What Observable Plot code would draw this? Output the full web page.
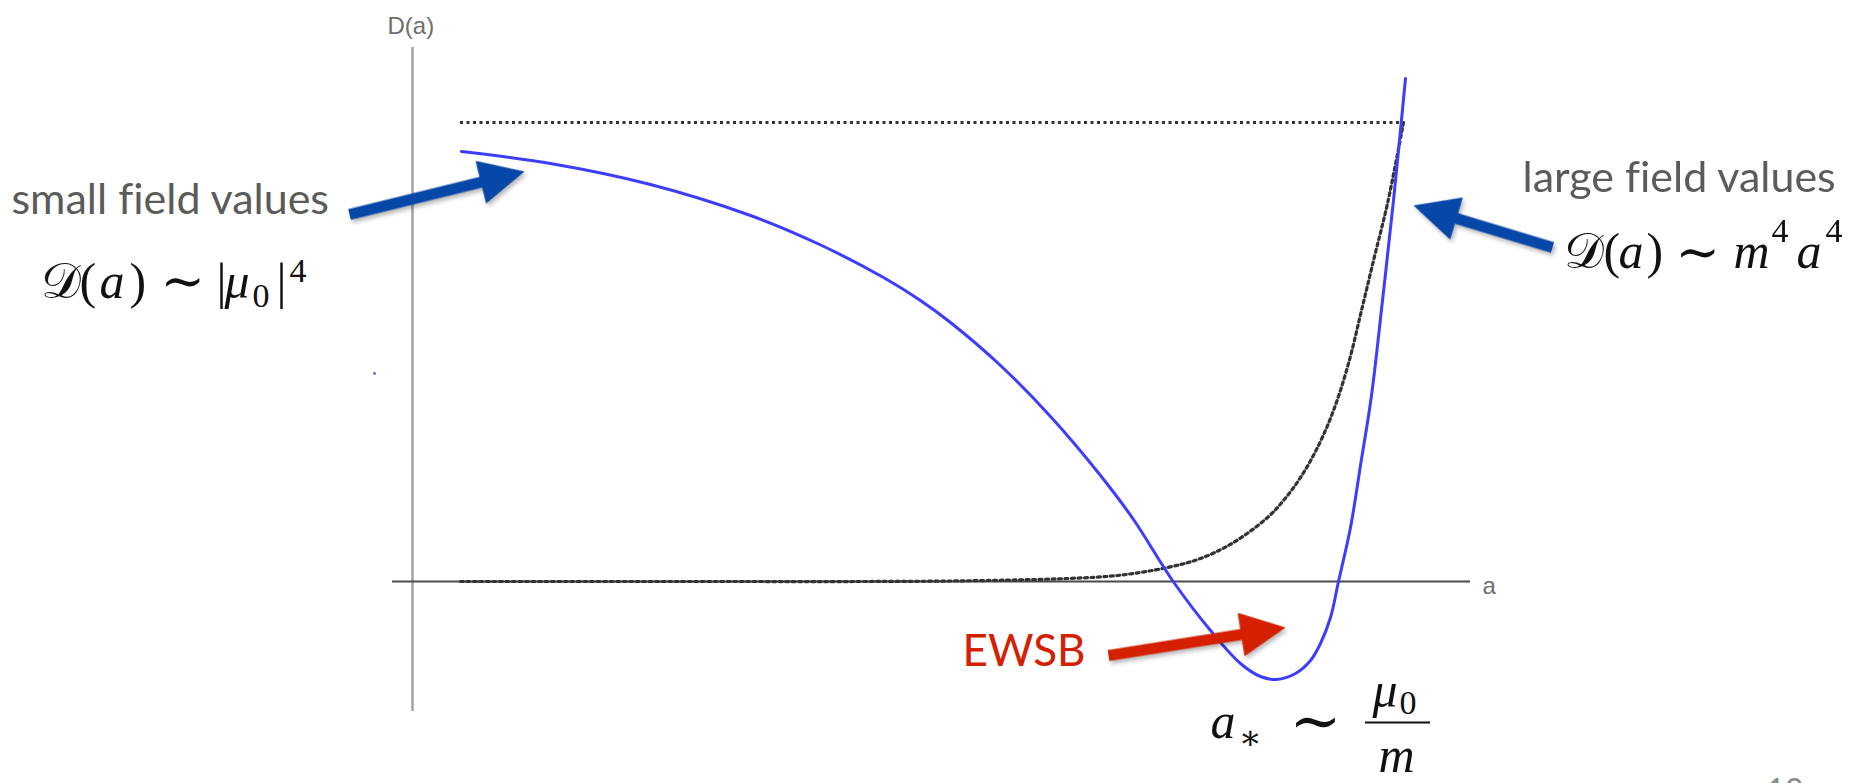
<!DOCTYPE html>
<html><head><meta charset="utf-8">
<script src="https://cdn.jsdelivr.net/npm/d3@7"></script>
<script src="https://cdn.jsdelivr.net/npm/@observablehq/plot@0.6"></script>
<style>
html,body{margin:0;padding:0;background:#fff;overflow:hidden}
#chart svg{display:block}
#chart text{font-variant-ligatures:none}
#chart g[aria-label="vector"]{filter:drop-shadow(2px 3px 2px rgba(0,0,0,0.28))}
</style></head><body><div id="chart"></div>
<script>
// ---- data (a, D(a)) ----
const curveA = [0.49, 1.38, 2.38, 3.38, 4.05, 4.71, 5.08, 5.38, 5.88, 6.38, 6.88, 7.21, 7.60, 7.98, 8.28, 8.48, 8.64, 8.83, 8.98, 9.08, 9.18, 9.26, 9.38, 9.48, 9.59, 9.70, 9.81, 9.93];
const curveD = [4.30, 4.18, 3.97, 3.66, 3.38, 3.04, 2.81, 2.59, 2.16, 1.65, 1.06, 0.62, 0.01, -0.49, -0.82, -0.95, -0.98, -0.92, -0.79, -0.62, -0.36, 0.00, 0.54, 1.16, 1.86, 2.81, 3.81, 5.03];
const quarticA = [0.48, 3.0, 4.5, 5.38, 6.0, 6.55, 7.05, 7.55, 7.88, 8.21, 8.55, 8.71, 8.88, 9.05, 9.21, 9.36, 9.49, 9.62, 9.75, 9.91];
const quarticD = [0, 0, 0, 0.005, 0.015, 0.03, 0.06, 0.14, 0.23, 0.39, 0.64, 0.81, 1.04, 1.34, 1.71, 2.18, 2.71, 3.25, 3.78, 4.59];
const plateauA = [0.48, 9.9];
const plateauD = 4.59;
const axisTitles = ["D(a)", "a"];
const noteTexts = ["small field values", "large field values", "EWSB", "12"];

// ---- frame: pixel <-> data (origin of axes at px 412,581; 100 px per unit) ----
const W = 1864, H = 783, OX = 412, OY = 581, U = 100;
const X = p => (p - OX) / U;
const Y = p => (OY - p) / U;

const curve = curveA.map((a, i) => ({a, D: curveD[i]}));
const quartic = quarticA.map((a, i) => ({a, D: quarticD[i]}));

// annotation layout (pixels)
const notes = [
  {t: noteTexts[0], px: 11, py: 213, fill: "#5b5b5b", size: 43},
  {t: noteTexts[1], px: 1522, py: 191, fill: "#5b5b5b", size: 43},
  {t: noteTexts[2], px: 962, py: 665, fill: "#d42000", size: 44},
  {t: noteTexts[3], px: 1766, py: 801, fill: "#8a8a8a", size: 32}
];
const axisText = [
  {t: axisTitles[0], px: 387, py: 33},
  {t: axisTitles[1], px: 1482, py: 593}
];
const mathUp = [
  {t: "𝒟", px: 40, py: 297, size: 50}, {t: "(", px: 79, py: 297, size: 50}, {t: ")", px: 129, py: 297, size: 50},
  {t: "|", px: 216, py: 297, size: 50}, {t: "0", px: 252, py: 306, size: 34},
  {t: "|", px: 276, py: 297, size: 50}, {t: "4", px: 289, py: 281, size: 34},
  {t: "𝒟", px: 1563, py: 267, size: 50}, {t: "(", px: 1603, py: 267, size: 50}, {t: ")", px: 1646, py: 267, size: 50},
  {t: "4", px: 1771, py: 241, size: 34}, {t: "4", px: 1825, py: 241, size: 34},
  {t: "∗", px: 1238, py: 748, size: 34}, {t: "0", px: 1399, py: 713, size: 34}
];
const mathTilde = [
  {t: "∼", px: 160, py: 298, size: 53}, {t: "∼", px: 1675, py: 269, size: 53}, {t: "∼", px: 1289, py: 741, size: 62}
];
const mathIt = [
  {t: "a", px: 99, py: 297, size: 50}, {t: "μ", px: 224, py: 297, size: 50},
  {t: "a", px: 1618, py: 267, size: 50}, {t: "m", px: 1733, py: 267, size: 50}, {t: "a", px: 1796, py: 267, size: 50},
  {t: "a", px: 1210, py: 737, size: 50}, {t: "μ", px: 1372, py: 706, size: 50}, {t: "m", px: 1378, py: 771, size: 50}
];
const arrows = [
  {tail: [349, 214], tip: [524, 171], fill: "#0747a8"},
  {tail: [1552, 247], tip: [1413, 205], fill: "#0747a8"},
  {tail: [1108, 655], tip: [1285, 627], fill: "#d42000"}
].map(d => ({
  x: X(d.tail[0]), y: Y(d.tail[1]), fill: d.fill,
  length: Math.hypot(d.tip[0] - d.tail[0], d.tip[1] - d.tail[1]),
  rotate: Math.atan2(d.tip[0] - d.tail[0], -(d.tip[1] - d.tail[1])) * 180 / Math.PI
}));

const filledArrow = {
  draw(ctx, l) {
    const hl = 45, hw = 22, sw = 5.5;
    ctx.moveTo(-sw, 0);
    ctx.lineTo(-sw, -(l - hl));
    ctx.lineTo(-hw, -(l - hl));
    ctx.lineTo(0, -l);
    ctx.lineTo(hw, -(l - hl));
    ctx.lineTo(sw, -(l - hl));
    ctx.lineTo(sw, 0);
    ctx.closePath();
  }
};

const serif = "'Liberation Serif', 'DejaVu Serif', serif";
const txt = (data, o) => Plot.text(data, {x: d => X(d.px), y: d => Y(d.py), text: "t", textAnchor: "start", lineAnchor: "bottom", ...o});
const chart = Plot.plot({
  width: W, height: H, margin: 0,
  style: {background: "#fff"},
  x: {domain: [X(0), X(W)], range: [0, W], axis: null},
  y: {domain: [Y(H), Y(0)], range: [H, 0], axis: null},
  length: {type: "identity"},
  marks: [
    Plot.ruleX([0], {y1: Y(711), y2: Y(47), stroke: "#a2a2a2", strokeWidth: 2.5}),
    Plot.ruleY([0], {x1: X(392), x2: X(1470), stroke: "#4a4a4a", strokeWidth: 2}),
    Plot.ruleY([plateauD], {x1: plateauA[0], x2: plateauA[1], stroke: "#333", strokeWidth: 3.2, strokeDasharray: "3 3.5"}),
    Plot.line(quartic, {x: "a", y: "D", curve: "catmull-rom", stroke: "#333", strokeWidth: 3.2, strokeDasharray: "3 3.5"}),
    Plot.line(curve, {x: "a", y: "D", curve: "catmull-rom", stroke: "#3d3dff", strokeWidth: 3}),
    Plot.dot([{px: 374, py: 373}], {x: d => X(d.px), y: d => Y(d.py), r: 1.4, fill: "#5a6ad8", stroke: "none"}),
    Plot.vector(arrows, {x: "x", y: "y", length: "length", rotate: "rotate", anchor: "start", shape: filledArrow, fill: "fill", stroke: "none"}),
    txt(axisText, {fontSize: 24, fontFamily: "'Liberation Sans', Arial, sans-serif", fill: "#6e6e6e"}),
    txt(notes, {fontSize: d => d.size, fontFamily: "Lato, 'Open Sans', sans-serif", fill: "fill"}),
    txt(mathUp, {fontSize: d => d.size, fontFamily: serif, fill: "#111"}),
    txt(mathTilde, {fontSize: d => d.size, fontFamily: "'DejaVu Serif', serif", fill: "#111"}),
    txt(mathIt, {fontSize: d => d.size, fontFamily: serif, fontStyle: "italic", fill: "#111"}),
    Plot.ruleY([Y(722)], {x1: X(1365), x2: X(1430), stroke: "#111", strokeWidth: 2})
  ]
});
document.getElementById("chart").appendChild(chart);
</script>
</body></html>
